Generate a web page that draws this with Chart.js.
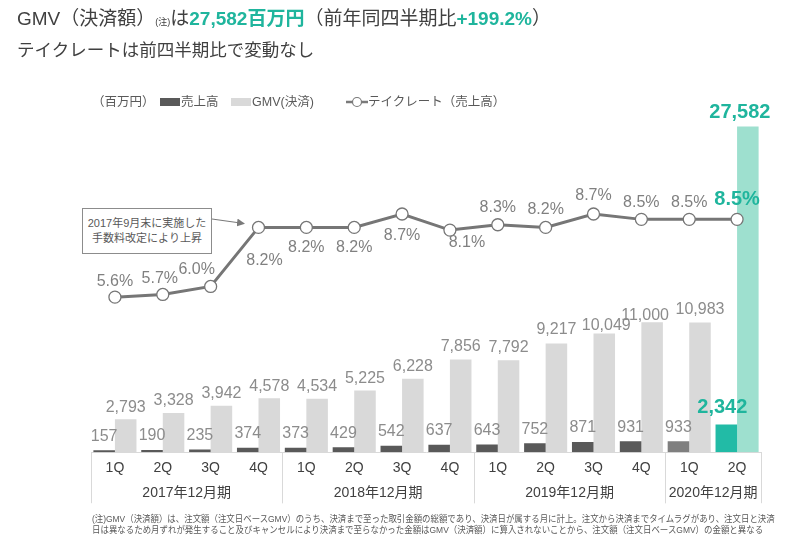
<!DOCTYPE html>
<html>
<head>
<meta charset="utf-8">
<script src="https://cdn.jsdelivr.net/npm/chart.js@4.4.1/dist/chart.umd.min.js"></script>
<style>
  body { margin: 0; width: 800px; height: 546px; background: #fff; overflow: hidden;
         font-family: "Liberation Sans", "Noto Sans CJK JP", sans-serif; color: #404040; }
  .abs { position: absolute; white-space: nowrap; }
  #title1 { left: 17px; top: 6px; font-size: 19px; line-height: 26px; }
  #title1 small { font-size: 9px; }
  #title1 b { color: #1fb59d; }
  #title2 { left: 17px; top: 37px; font-size: 17.5px; line-height: 26px; }
  #legend { left: 0; top: 93px; font-size: 12.5px; color: #595959; line-height: 18px; }
  #legend span { position: absolute; top: 0; }
  .swatch { display: inline-block; width: 20px; height: 8px; margin-top: 5px; }
  #note { left: 82px; top: 208px; width: 128px; height: 37px; border: 1px solid #8c8c8c; background: #fff;
          font-size: 11px; line-height: 15px; color: #595959; text-align: center; padding-top: 7px; }
  #foot { left: 92px; top: 513px; font-size: 9.5px; line-height: 11px; color: #595959; }
  #foot div { transform-origin: 0 0; display: inline-block; }
  canvas { position: absolute; left: 0; top: 0; }
</style>
</head>
<body>
<canvas id="chart" width="800" height="546"></canvas>
<div id="title1" class="abs">GMV（決済額）<small>(注)</small>は<b>27,582百万円</b>（前年同四半期比<b>+199.2%</b>）</div>
<div id="title2" class="abs">テイクレートは前四半期比で変動なし</div>
<div id="legend" class="abs">
  <span style="left:92px">（百万円）</span>
  <span style="left:160px"><i class="swatch" style="background:#595959"></i></span>
  <span style="left:181px">売上高</span>
  <span style="left:231px"><i class="swatch" style="background:#d9d9d9"></i></span>
  <span style="left:252px">GMV(決済)</span>
  <span style="left:346px;top:1px"><svg width="22" height="16"><line x1="0" y1="8" x2="22" y2="8" stroke="#7a7a7a" stroke-width="2.5"/><circle cx="11" cy="8" r="4.5" fill="#fff" stroke="#7a7a7a" stroke-width="1.2"/></svg></span>
  <span style="left:368px">テイクレート（売上高）</span>
</div>
<div id="note" class="abs">2017年9月末に実施した<br>手数料改定により上昇</div>
<svg class="abs" style="left:0;top:0" width="800" height="546" pointer-events="none">
  <defs><marker id="ah" markerWidth="8" markerHeight="8" refX="7" refY="4" orient="auto" markerUnits="userSpaceOnUse">
    <path d="M0,0 L8,4 L0,8 z" fill="#7a7a7a"/></marker></defs>
  <line x1="212" y1="219" x2="244" y2="223.5" stroke="#7a7a7a" stroke-width="1.2" marker-end="url(#ah)"/>
</svg>
<div id="foot" class="abs">
  <div id="foot1">(注)GMV（決済額）は、注文額（注文日ベースGMV）のうち、決済まで至った取引金額の総額であり、決済日が属する月に計上。注文から決済までタイムラグがあり、注文日と決済</div><br>
  <div id="foot2">日は異なるため月ずれが発生すること及びキャンセルにより決済まで至らなかった金額はGMV（決済額）に算入されないことから、注文額（注文日ベースGMV）の金額と異なる</div>
</div>
<script>
// Chart values
var quarters = ["1Q", "2Q", "3Q", "4Q", "1Q", "2Q", "3Q", "4Q", "1Q", "2Q", "3Q", "4Q", "1Q", "2Q"];
var fiscalYears = ["2017年12月期", "2018年12月期", "2019年12月期", "2020年12月期"];
var yearSpans = [4, 4, 4, 2];
var sales = [157, 190, 235, 374, 373, 429, 542, 637, 643, 752, 871, 931, 933, 2342];
var gmv = [2793, 3328, 3942, 4578, 4534, 5225, 6228, 7856, 7792, 9217, 10049, 11000, 10983, 27582];
var takeRate = [5.6, 5.7, 6.0, 8.2, 8.2, 8.2, 8.7, 8.1, 8.3, 8.2, 8.7, 8.5, 8.5, 8.5];

// label placement relative to the mark (px)
var rateLabelDx = [0, -3, -14, 6, 0, 0, 0, 17, 0, 0, 0, 0, 0, 0];
var rateLabelDy = [-16, -16, -17, 33, 20, 20, 22, 12, -17, -18, -18, -17, -17, -20];
var gmvLabelDx = [0, 0, 0, 0, 0, 0, 0, 0, 0, 0, 2, -7, 0, -8];
var gmvLabelDy = [-12, -12, -12, -12, -12, -12, -12, -13, -13, -14, -8, -7, -13, -14];

var TEAL = "#1fb59d";
var FONT = '"Liberation Sans", "Noto Sans CJK JP", sans-serif';
var last = quarters.length - 1;

// Fit footnote lines to their width
document.getElementById("foot1").style.transform = "scaleX(" + (683 / document.getElementById("foot1").offsetWidth) + ")";
document.getElementById("foot2").style.transform = "scaleX(" + (671 / document.getElementById("foot2").offsetWidth) + ")";

Chart.defaults.font.family = FONT;

function fmt(v) {
  return v.toLocaleString("en-US");
}

var labelPlugin = {
  id: "labels",
  afterDatasetsDraw: function (chart) {
    var ctx = chart.ctx;
    var area = chart.chartArea;
    var xs = chart.scales.x;
    ctx.save();
    ctx.textAlign = "center";
    ctx.textBaseline = "middle";

    // 売上高 labels
    chart.getDatasetMeta(1).data.forEach(function (bar, i) {
      if (i == last) {
        ctx.font = "bold 20px " + FONT;
        ctx.fillStyle = TEAL;
        ctx.fillText(fmt(sales[i]), bar.x - 4, bar.y - 17);
      } else {
        ctx.font = "16px " + FONT;
        ctx.fillStyle = "#8c8c8c";
        ctx.fillText(fmt(sales[i]), bar.x, bar.y - 14);
      }
    });

    // GMV labels
    chart.getDatasetMeta(2).data.forEach(function (bar, i) {
      ctx.font = i == last ? "bold 20px " + FONT : "16px " + FONT;
      ctx.fillStyle = i == last ? TEAL : "#8c8c8c";
      ctx.fillText(fmt(gmv[i]), bar.x + gmvLabelDx[i], bar.y + gmvLabelDy[i]);
    });

    // take rate labels
    chart.getDatasetMeta(0).data.forEach(function (pt, i) {
      ctx.font = i == last ? "bold 20px " + FONT : "16px " + FONT;
      ctx.fillStyle = i == last ? TEAL : "#808080";
      ctx.fillText(takeRate[i].toFixed(1) + "%", pt.x + rateLabelDx[i], pt.y + rateLabelDy[i]);
    });

    // fiscal year groups under the quarter labels
    var step = xs.getPixelForValue(1) - xs.getPixelForValue(0);
    var start = 0;
    ctx.strokeStyle = "#d9d9d9";
    ctx.lineWidth = 1;
    ctx.font = "14px " + FONT;
    ctx.fillStyle = "#404040";
    for (var g = 0; g < fiscalYears.length; g++) {
      var left = xs.getPixelForValue(start) - step / 2;
      var right = xs.getPixelForValue(start + yearSpans[g] - 1) + step / 2;
      ctx.fillText(fiscalYears[g], (left + right) / 2, area.bottom + 41);
      [left, right].forEach(function (x) {
        ctx.beginPath();
        ctx.moveTo(Math.round(x) + 0.5, area.bottom);
        ctx.lineTo(Math.round(x) + 0.5, area.bottom + 51);
        ctx.stroke();
      });
      start += yearSpans[g];
    }
    ctx.restore();
  }
};

var ctx = document.getElementById("chart");
var chart = new Chart(ctx, {
  type: "bar",
  data: {
    labels: quarters,
    datasets: [
      {
        type: "line",
        label: "テイクレート（売上高）",
        data: takeRate,
        yAxisID: "y1",
        order: 0,
        borderColor: "#767676",
        borderWidth: 3,
        pointRadius: 6,
        pointBackgroundColor: "#fff",
        pointBorderColor: "#767676",
        pointBorderWidth: 1.3,
        tension: 0
      },
      {
        label: "売上高",
        data: sales,
        yAxisID: "y",
        order: 1,
        backgroundColor: sales.map(function (v, i) {
          return i == last ? "#22bba6" : (i == last - 1 ? "#7f7f7f" : "#595959");
        })
      },
      {
        label: "GMV(決済)",
        data: gmv,
        yAxisID: "y",
        order: 1,
        backgroundColor: gmv.map(function (v, i) {
          return i == last ? "#9ee0cf" : "#d9d9d9";
        })
      }
    ]
  },
  options: {
    responsive: false,
    animation: false,
    devicePixelRatio: 1,
    layout: { padding: { left: 91, right: 39, top: 100, bottom: 61 } },
    datasets: { bar: { categoryPercentage: 0.9, barPercentage: 1 } },
    plugins: { legend: { display: false }, tooltip: { enabled: false } },
    scales: {
      x: {
        grid: { display: false, drawTicks: false },
        border: { display: true, color: "#d9d9d9" },
        ticks: { color: "#404040", font: { size: 14 }, padding: 8 }
      },
      y: { display: false, min: 0, max: 29830 },
      y1: { display: false, min: -0.18, max: 12.95 }
    }
  },
  plugins: [labelPlugin]
});
</script>
</body>
</html>
